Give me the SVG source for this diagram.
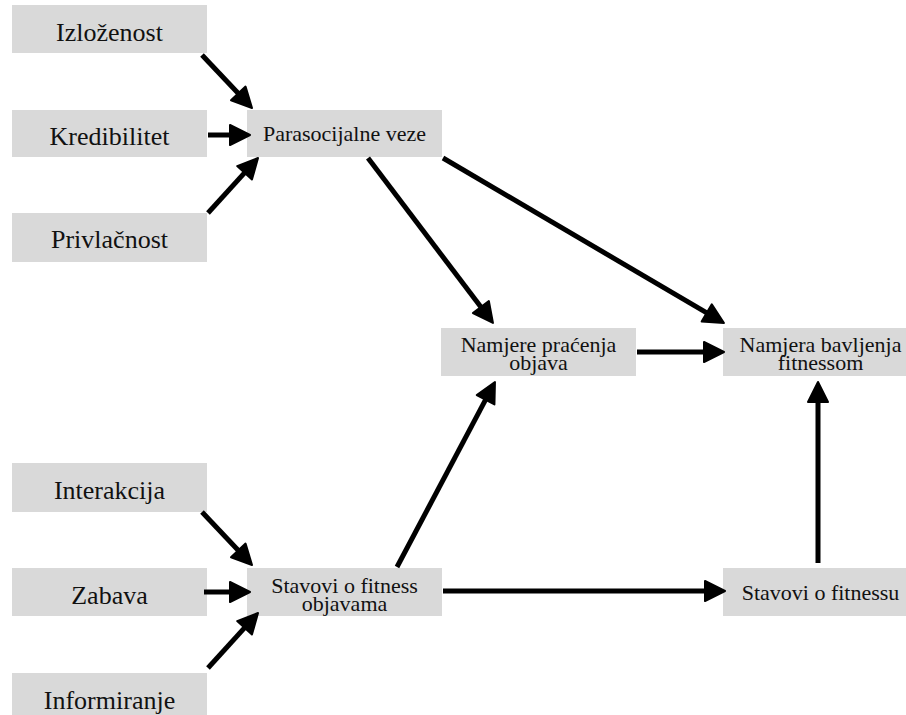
<svg xmlns="http://www.w3.org/2000/svg" width="906" height="715" viewBox="0 0 906 715">
<style>
.box{fill:#d9d9d9}
text{fill:#111;text-anchor:middle;font-family:'Liberation Serif','Times New Roman',Tinos,'DejaVu Serif','Noto Serif','Nimbus Roman',FreeSerif,Times,serif}
.c line{stroke:#000;stroke-width:5;marker-end:url(#ah)}
</style>
<defs>
<marker id="ah" markerUnits="userSpaceOnUse" viewBox="-2 -2 24 24" markerWidth="24" markerHeight="24" refX="6" refY="10" orient="auto">
<path d="M0,0 L20,10 L0,20 z" fill="#000" stroke="#000" stroke-width="2" stroke-linejoin="round"/>
</marker>
</defs>
<rect width="906" height="715" fill="#fff"/>
<g id="izlozenost" font-size="26"><rect class="box" x="12" y="5" width="195" height="48"/><text x="109.5" y="41">Izloženost</text></g>
<g id="kredibilitet" font-size="26"><rect class="box" x="12" y="110" width="195" height="47"/><text x="109.5" y="145">Kredibilitet</text></g>
<g id="privlacnost" font-size="26"><rect class="box" x="12" y="213" width="195" height="49"/><text x="109.5" y="248">Privlačnost</text></g>
<g id="parasocijalne" font-size="22"><rect class="box" x="247" y="110" width="195" height="47"/><text x="344.5" y="141">Parasocijalne veze</text></g>
<g id="namjere-pracenja" font-size="22"><rect class="box" x="441" y="328" width="195" height="48"/><text x="538.5" y="352">Namjere praćenja</text><text x="538.5" y="370">objava</text></g>
<g id="namjera-bavljenja" font-size="22"><rect class="box" x="723" y="328" width="195" height="48"/><text x="820.5" y="352">Namjera bavljenja</text><text x="820.5" y="370">fitnessom</text></g>
<g id="interakcija" font-size="26"><rect class="box" x="12" y="463" width="195" height="49"/><text x="109.5" y="499">Interakcija</text></g>
<g id="zabava" font-size="26"><rect class="box" x="12" y="568" width="195" height="48"/><text x="109.5" y="604">Zabava</text></g>
<g id="informiranje" font-size="26"><rect class="box" x="12" y="673" width="195" height="48"/><text x="109.5" y="709">Informiranje</text></g>
<g id="stavovi-objave" font-size="22"><rect class="box" x="247" y="568" width="195" height="48"/><text x="344.5" y="593">Stavovi o fitness</text><text x="344.5" y="611">objavama</text></g>
<g id="stavovi-fitness" font-size="22"><rect class="box" x="723" y="568" width="195" height="48"/><text x="820.5" y="600">Stavovi o fitnessu</text></g>
<g id="connectors" class="c">
<line x1="202" y1="55" x2="242.4" y2="97.8"/>
<line x1="208" y1="135" x2="236" y2="135"/>
<line x1="208" y1="213" x2="248.6" y2="168.4"/>
<line x1="368" y1="158" x2="484.5" y2="311.8"/>
<line x1="443" y1="158" x2="711.9" y2="315.9"/>
<line x1="637" y1="352" x2="710" y2="352"/>
<line x1="818" y1="563" x2="818" y2="396"/>
<line x1="397" y1="567" x2="488.4" y2="394.4"/>
<line x1="443" y1="591" x2="711" y2="591"/>
<line x1="202" y1="512" x2="242.4" y2="554.8"/>
<line x1="204" y1="592" x2="236" y2="592"/>
<line x1="208" y1="668" x2="248.6" y2="623.4"/>
</g>
</svg>
